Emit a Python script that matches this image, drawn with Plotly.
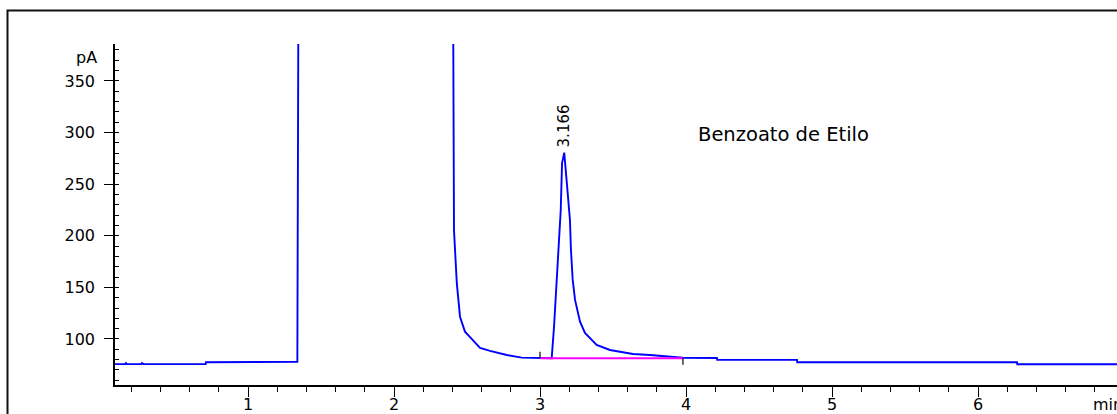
import plotly.graph_objects as go

# FID chromatogram: retention time (min) vs detector signal (pA)
time_min = [0.089, 0.160, 0.164, 0.170, 0.270, 0.274, 0.285, 0.710, 0.712,
            1.338, 1.345, 2.405, 2.411, 2.430, 2.452, 2.486, 2.532, 2.589,
            2.658, 2.772, 2.875, 2.986, 3.080, 3.096, 3.114, 3.129, 3.142,
            3.151, 3.166, 3.183, 3.205, 3.212, 3.224, 3.240, 3.274, 3.308,
            3.388, 3.479, 3.637, 3.753, 3.911, 3.979, 4.212, 4.214, 4.760,
            4.762, 6.267, 6.269, 6.952]
signal_pA = [75.6, 75.6, 76.6, 75.6, 75.6, 76.6, 75.6, 75.6, 77.5,
             77.8, 420.0, 420.0, 205.0, 154.3, 121.6, 107.1, 100.0, 91.3,
             88.4, 84.5, 81.9, 81.6, 81.4, 111.6, 154.3, 186.2, 225.0,
             270.5, 280.5, 252.4, 215.3, 186.2, 157.2, 137.8, 116.8, 105.8,
             94.2, 89.3, 85.5, 84.5, 83.0, 81.8, 81.6, 79.7, 79.7,
             77.4, 77.4, 75.5, 75.5]

# x tick labels (min)
x_ticks = [1, 2, 3, 4, 5, 6]

# integrated peak
peak_rt = 3.166
peak_height = 280.5
baseline_start = 3.0
baseline_end = 3.979
baseline_level = 81.3
marker_len = 6.3
compound_name = "Benzoato de Etilo"

x_range = [0.089, 6.952]
y_range = [55.4, 385.8]

# layout geometry in pixels
W, H = 1117, 414
L, R, T, B = 115, 0, 44, 29
pw, ph = W - L - R, H - T - B


def px_x(px):
    return (px - L) / pw


def px_y(py):
    return (H - B - py) / ph


tick_font = dict(family="DejaVu Sans", size=16, color="#000000")

fig = go.Figure()

fig.add_trace(go.Scatter(
    x=time_min, y=signal_pA, mode="lines",
    line=dict(color="#0000ff", width=1.9),
    hoverinfo="skip", showlegend=False,
))

# integration baseline
fig.add_trace(go.Scatter(
    x=[baseline_start, baseline_end], y=[baseline_level, baseline_level],
    mode="lines", line=dict(color="#ff00ff", width=1.8),
    hoverinfo="skip", showlegend=False,
))

# start / end markers of the integration
fig.add_shape(type="line", xref="x", yref="y",
              x0=baseline_start, x1=baseline_start,
              y0=baseline_level, y1=baseline_level + marker_len,
              line=dict(color="#000000", width=1.2))
fig.add_shape(type="line", xref="x", yref="y",
              x0=baseline_end, x1=baseline_end,
              y0=baseline_level, y1=baseline_level - marker_len,
              line=dict(color="#000000", width=1.2))

# outer frame
fig.add_shape(type="rect", xref="paper", yref="paper",
              x0=px_x(7.5), x1=px_x(1130), y0=px_y(430), y1=px_y(10.5),
              line=dict(color="#111111", width=2), layer="above")

# retention time label above the peak
fig.add_annotation(x=peak_rt, y=peak_height, xref="x", yref="y",
                   text=f"{peak_rt:.3f}", textangle=-90, showarrow=False,
                   xanchor="center", yanchor="bottom", yshift=3,
                   font=dict(family="DejaVu Sans", size=15, color="#000000"))

fig.add_annotation(x=4.082, y=297.7, xref="x", yref="y",
                   text=compound_name, showarrow=False,
                   xanchor="left", yanchor="middle", xshift=-2,
                   font=dict(family="DejaVu Sans", size=19.5, color="#000000"))

# x tick labels placed just under the major ticks
for t in x_ticks:
    fig.add_annotation(x=t, y=px_y(404.5), xref="x", yref="paper",
                       text=str(t), showarrow=False, xanchor="center",
                       yanchor="middle", borderpad=0, font=tick_font)

# axis unit labels
fig.add_annotation(x=0, y=372.3, xref="paper", yref="y", text="pA",
                   showarrow=False, xanchor="right", yanchor="middle",
                   xshift=-16, font=tick_font)
fig.add_annotation(x=px_x(1092), y=px_y(404.5), xref="paper", yref="paper",
                   text="min", showarrow=False, xanchor="left",
                   yanchor="middle", borderpad=0, font=tick_font)

axis_common = dict(
    showgrid=False, zeroline=False, showline=True, automargin=False,
    linecolor="#000000", linewidth=1.5,
    ticks="outside", tickcolor="#000000", tickwidth=1.2,
    tickfont=tick_font,
)

fig.update_xaxes(range=x_range, tickmode="array", tickvals=x_ticks,
                 showticklabels=False, ticklen=10,
                 minor=dict(ticks="outside", dtick=0.2, tick0=0, ticklen=5,
                            tickcolor="#000000", tickwidth=1.2),
                 **axis_common)
fig.update_yaxes(range=y_range, tick0=0, dtick=50, ticklen=9,
                 ticklabelstandoff=6,
                 minor=dict(ticks="inside", dtick=10, tick0=0, ticklen=4,
                            tickcolor="#000000", tickwidth=1.2),
                 **axis_common)

fig.update_layout(
    template="none",
    width=W, height=H,
    margin=dict(l=L, r=R, t=T, b=B, pad=0),
    paper_bgcolor="#ffffff", plot_bgcolor="#ffffff",
    showlegend=False,
)

fig.write_html("out.html", config={"displayModeBar": False})
